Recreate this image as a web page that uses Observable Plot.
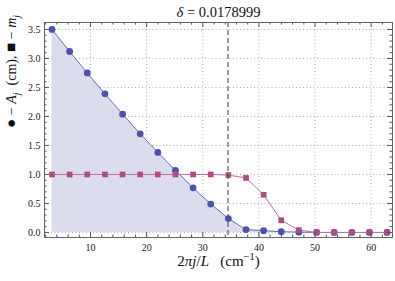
<!DOCTYPE html>
<html><head><meta charset="utf-8">
<script src="https://cdn.jsdelivr.net/npm/d3@7"></script>
<script src="https://cdn.jsdelivr.net/npm/@observablehq/plot@0.6"></script>
<style>body{margin:0;background:#fff}</style>
</head><body><div id="chart"></div>
<script>
const kVals = [3.14, 6.28, 9.42, 12.57, 15.71, 18.85, 21.99, 25.13, 28.27, 31.42, 34.56, 37.70, 40.84, 43.98, 47.12, 50.27, 53.41, 56.55, 59.69, 62.83];
const ampA = [3.50, 3.12, 2.75, 2.39, 2.04, 1.70, 1.38, 1.07, 0.77, 0.49, 0.24, 0.05, 0.03, 0.012, 0.005, 0, 0, 0, 0, 0];
const modeM = [1, 1, 1, 1, 1, 1, 1, 1, 1, 1, 0.99, 0.94, 0.65, 0.21, 0.04, 0, 0, 0, 0, 0];
const xTicks = [10, 20, 30, 40, 50, 60];
const yTicks = [0, 0.5, 1, 1.5, 2, 2.5, 3, 3.5];
const yTickLabels = ["0.0", "0.5", "1.0", "1.5", "2.0", "2.5", "3.0", "3.5"];
const cutoff = [34.5];
const titleText = ["δ = 0.0178999"];

const data = kVals.map((k, i) => ({k, A: ampA[i], m: modeM[i]}));
const xMinor = d3.range(2, 64, 2).filter(v => v % 10 !== 0);
const yMinor = d3.range(0, 36).map(v => v / 10).filter(v => Math.round(v * 10) % 5 !== 0);

const W = 395, H = 281, mT = 22, mB = 44, mL = 44, mR = 3;
const fw = W - mL - mR, fh = H - mT - mB;
const blue = "#4f51b1", blueLine = "#6a6cc0", pink = "#b04c80", pinkLine = "#c0709a";
const tickCol = "#555";

const plot = Plot.plot({
  width: W, height: H,
  marginTop: mT, marginBottom: mB, marginLeft: mL, marginRight: mR,
  style: {fontFamily: "'Liberation Serif', 'DejaVu Serif', serif", fontSize: "10px", background: "#fff"},
  x: {domain: [1.8, 63.8]},
  y: {domain: [-0.087, 3.62]},
  marks: [
    Plot.gridX(xTicks, {stroke: "#aaa", strokeOpacity: 1, strokeDasharray: "1,2.5"}),
    Plot.gridY(yTicks, {stroke: "#aaa", strokeOpacity: 1, strokeDasharray: "1,2.5"}),
    Plot.areaY(data, {x: "k", y: "A", fill: "#dcdcef"}),
    Plot.line(data, {x: "k", y: "A", stroke: blueLine, strokeWidth: 1}),
    Plot.dot(data, {x: "k", y: "A", fill: blue, r: 3.4, stroke: "none"}),
    Plot.line(data, {x: "k", y: "m", stroke: pinkLine, strokeWidth: 1}),
    Plot.dot(data, {x: "k", y: "m", fill: pink, r: 3.2, symbol: "square", stroke: "none"}),
    Plot.ruleX(cutoff, {stroke: "#444", strokeDasharray: "5,3", strokeWidth: 1}),
    Plot.tickX(xTicks, {x: d => d, stroke: tickCol, insetTop: fh - 5}),
    Plot.tickX(xTicks, {x: d => d, stroke: tickCol, insetBottom: fh - 5}),
    Plot.tickX(xMinor, {x: d => d, stroke: tickCol, insetTop: fh - 2.5}),
    Plot.tickX(xMinor, {x: d => d, stroke: tickCol, insetBottom: fh - 2.5}),
    Plot.tickY(yTicks, {y: d => d, stroke: tickCol, insetRight: fw - 5}),
    Plot.tickY(yTicks, {y: d => d, stroke: tickCol, insetLeft: fw - 5}),
    Plot.tickY(yMinor, {y: d => d, stroke: tickCol, insetRight: fw - 2.5}),
    Plot.tickY(yMinor, {y: d => d, stroke: tickCol, insetLeft: fw - 2.5}),
    Plot.frame({stroke: "#666"}),
    Plot.axisX(xTicks, {tickSize: 0, tickPadding: 6, label: null, fill: "#222"}),
    Plot.axisY(yTicks, {tickSize: 0, tickPadding: 4, label: null, fill: "#222", tickFormat: d => yTickLabels[yTicks.indexOf(d)]}),
    Plot.text(titleText, {frameAnchor: "top", lineAnchor: "middle", dy: -10, fontSize: 14.5, text: () => "@@title", fill: "#111"}),
    Plot.text(["x"], {frameAnchor: "bottom", lineAnchor: "middle", dy: 24, fontSize: 15, text: () => "@@xlabel", fill: "#111"}),
    Plot.text(["y"], {frameAnchor: "left", dx: -33, dy: -2, rotate: -90, fontSize: 14, text: () => "@@ylabel", fill: "#111"})
  ]
});
document.getElementById("chart").append(plot);

function fill(key, parts) {
  const t = d3.select(plot).selectAll("text").filter(function() { return this.textContent === key; });
  t.text(null).style("white-space", "pre");
  let shift = 0;
  for (const p of parts) {
    const ts = t.append("tspan").text(p.t);
    if (p.i) ts.attr("font-style", "italic");
    if (p.size) ts.attr("font-size", p.size);
    const target = p.sub ? 4 : p.sup ? -6 : 0;
    if (target !== shift) { ts.attr("dy", target - shift); shift = target; }
    if (p.sub || p.sup) ts.attr("font-size", "0.7em");
  }
  return t;
}
fill("@@title", [{t: "δ", i: 1}, {t: " = " + titleText[0].split("= ")[1]}]);
fill("@@xlabel", [{t: "2"}, {t: "π", i: 1}, {t: "j", i: 1}, {t: "/"}, {t: "L", i: 1}, {t: "   (cm"}, {t: "−1", sup: 1}, {t: ")"}]);
const yl = fill("@@ylabel", [{t: "●", size: "1.1em"}, {t: " − "}, {t: "A", i: 1}, {t: "j", i: 1, sub: 1}, {t: "  (cm), "}, {t: "■", size: "1.1em"}, {t: " − "}, {t: "m", i: 1}, {t: "j", i: 1, sub: 1}]);
const node = yl.node();
if (node) {
  const len = node.getComputedTextLength();
  if (len > 164) yl.attr("font-size", 14 * 164 / len);
}
</script>
</body></html>
